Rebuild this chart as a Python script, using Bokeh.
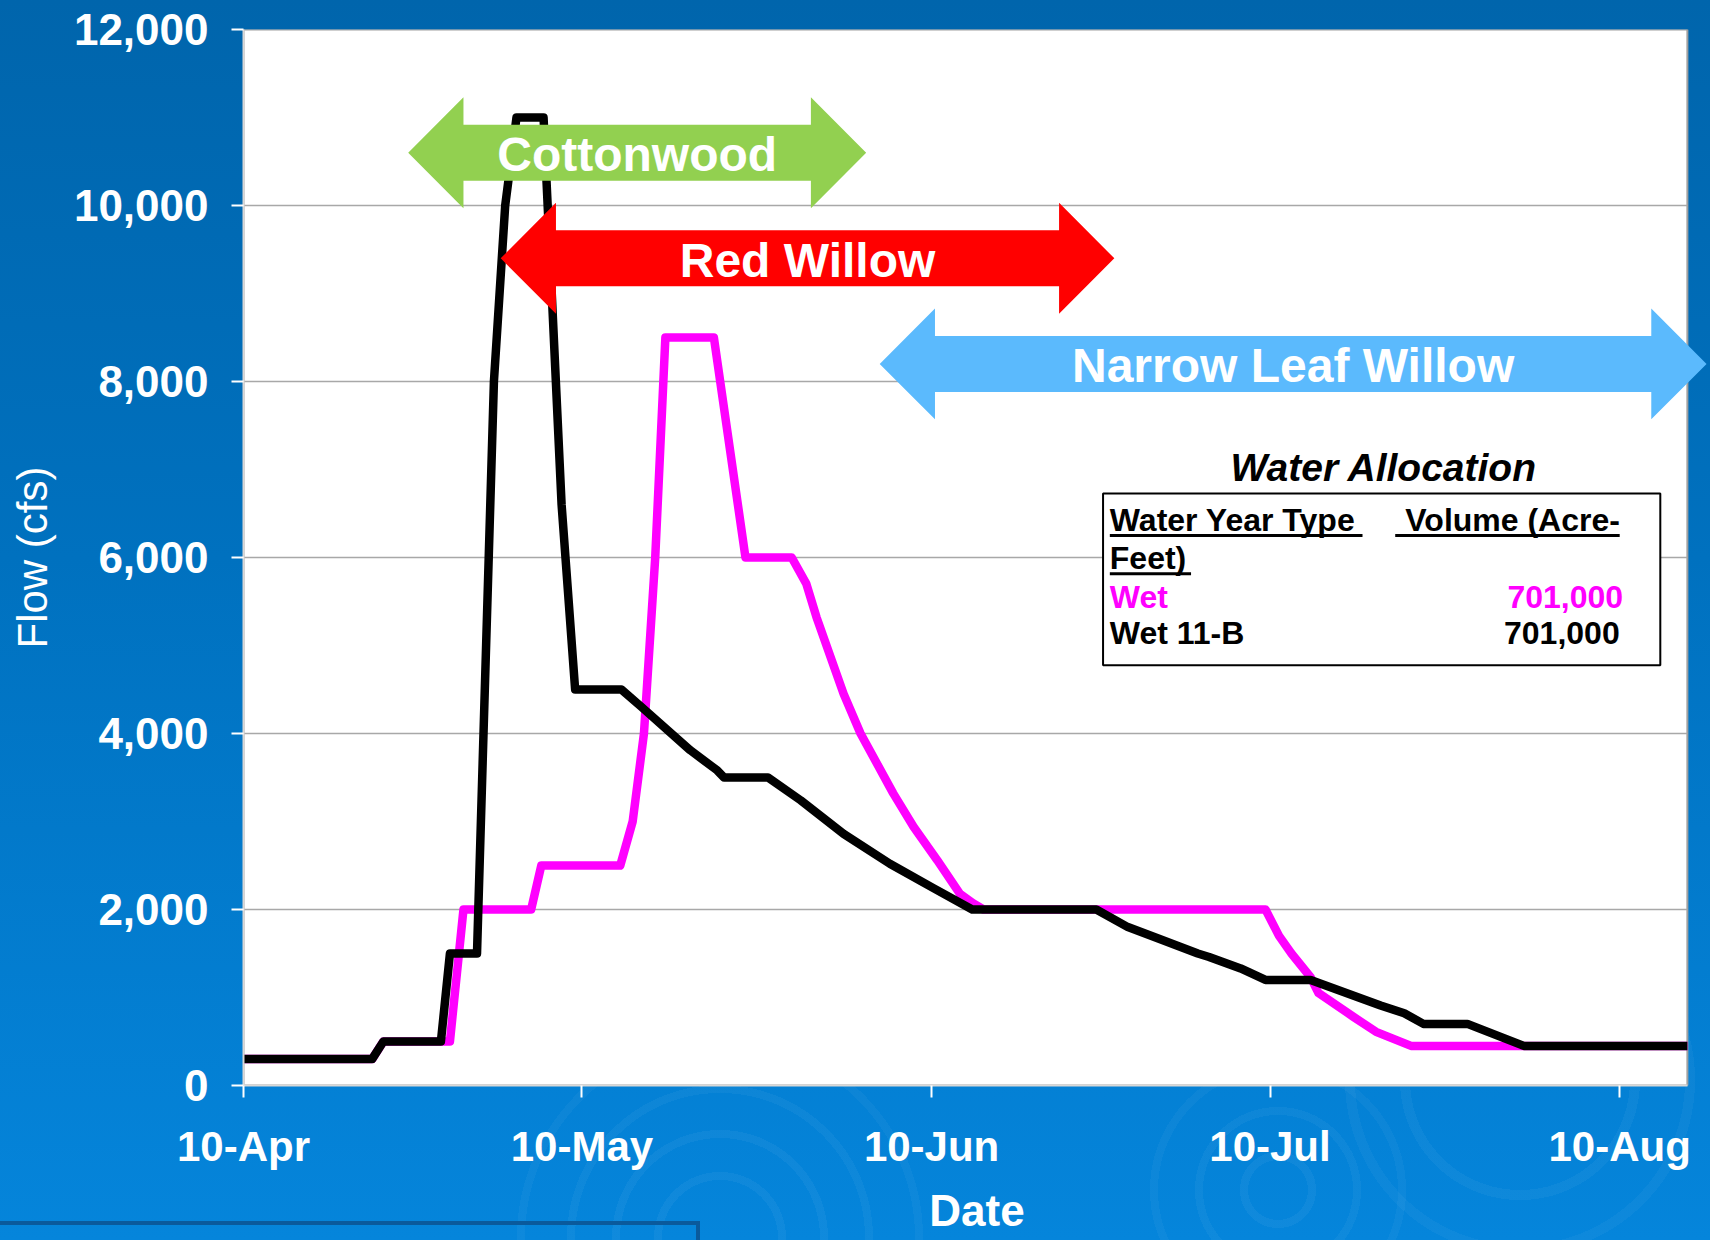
from bokeh.plotting import figure
from bokeh.models import (FixedTicker, Label, Range1d, NumeralTickFormatter,
                          GlobalInlineStyleSheet)
from bokeh.embed import file_html
from bokeh.resources import INLINE

# ---------------- data (x = days after 10-Apr) ----------------
tick_days = [0, 30, 61, 91, 122]
tick_labels = ["10-Apr", "10-May", "10-Jun", "10-Jul", "10-Aug"]
y_ticks = [0, 2000, 4000, 6000, 8000, 10000, 12000]
grid_vals = [2000, 4000, 6000, 8000, 10000]
x_end = 128

wet_days = [0, 11.4, 12.4, 18.3, 19.5, 25.5, 26.4, 33.4, 34.5, 35.5, 36.5, 37.4,
            41.7, 44.5, 48.6, 49.9, 50.8, 53.2, 54.7, 57.6, 59.4, 61.5, 63.5, 64.7,
            65.6, 90.6, 91.8, 92.9, 94.6, 95.3, 98.4, 100.4, 103.5, 128]
wet_flow = [300, 300, 500, 500, 2000, 2000, 2500, 2500, 3000, 4000, 6000, 8500,
            8500, 6000, 6000, 5700, 5320, 4450, 4000, 3320, 2940, 2560, 2180, 2070,
            2000, 2000, 1700, 1500, 1230, 1050, 780, 610, 450, 450]

wet11b_days = [0, 11.4, 12.4, 17.5, 18.3, 20.7, 22.2, 23.2, 24.2, 26.6, 28.2, 29.4,
               33.5, 35.3, 39.6, 42.0, 42.6, 46.5, 49.4, 53.2, 57.3, 61.2, 64.6,
               75.6, 78.4, 81.1, 84.6, 85.6, 88.4, 90.6, 94.6, 100.8, 102.9, 104.6,
               108.5, 113.5, 128]
wet11b_flow = [300, 300, 500, 500, 1500, 1500, 8000, 10000, 11000, 11000, 6600, 4500,
               4500, 4300, 3810, 3580, 3500, 3500, 3240, 2860, 2520, 2240, 2000,
               2000, 1800, 1670, 1500, 1460, 1330, 1200, 1200, 910, 820, 700,
               700, 450, 450]

arrow_labels = ["Cottonwood", "Red Willow", "Narrow Leaf Willow"]
arrow_start = [14.6, 22.8, 56.4]
arrow_end = [55.2, 77.2, 129.7]
arrow_level = [10600, 9400, 8200]
arrow_colors = ["#92D050", "#FF0000", "#5BBAFD"]

table_title = "Water Allocation"
table_head = ["Water Year Type", "Volume (Acre-", "Feet)"]
table_types = ["Wet", "Wet 11-B"]
table_volumes = ["701,000", "701,000"]
table_colors = ["#FF00FF", "#000000"]

# ---------------- styles ----------------
FONT = "Liberation Sans"
head_len = 4.9
head_half = 630
body_half = 318

p = figure(width=1710, height=1240, output_backend="svg", toolbar_location=None,
           x_range=Range1d(0, 130.05), y_range=Range1d(0, 12000),
           min_border_left=243, min_border_right=0, min_border_top=29,
           min_border_bottom=155)
p.background_fill_color = None
p.border_fill_color = None
p.outline_line_color = None
p.xgrid.visible = False
p.ygrid.visible = False

rings_a = ("radial-gradient(circle at 720px 1238px, transparent 0 58px, "
           "rgba(255,255,255,0.045) 58px 66px, transparent 66px 100px, "
           "rgba(255,255,255,0.045) 100px 108px, transparent 108px 145px, "
           "rgba(255,255,255,0.04) 145px 153px, transparent 153px 195px, "
           "rgba(255,255,255,0.035) 195px 203px, transparent 203px)")
rings_b = ("radial-gradient(circle at 1278px 1190px, transparent 0 30px, "
           "rgba(255,255,255,0.045) 30px 38px, transparent 38px 75px, "
           "rgba(255,255,255,0.04) 75px 83px, transparent 83px 120px, "
           "rgba(255,255,255,0.035) 120px 128px, transparent 128px)")
rings_c = ("radial-gradient(circle at 1520px 1080px, transparent 0 110px, "
           "rgba(255,255,255,0.04) 110px 120px, transparent 120px 165px, "
           "rgba(255,255,255,0.035) 165px 175px, transparent 175px)")
p.stylesheets = [GlobalInlineStyleSheet(css="""
html {
  min-height: 100%;
  background:
    linear-gradient(#0A5A9C, #0A5A9C) 0px 1221px / 700px 4px no-repeat,
    linear-gradient(#0A5A9C, #0A5A9C) 696px 1221px / 4px 20px no-repeat,
    """ + rings_a + """,
    """ + rings_b + """,
    """ + rings_c + """,
    linear-gradient(180deg, #0065AC 0%, #0071BF 45%, #0585DB 100%);
}
body { background: transparent; }
""")]

# plot area
p.quad(left=0, right=x_end, bottom=0, top=12000, fill_color="white",
       line_color="#A0A0A0", line_width=2, level="image")
p.segment(x0=[0] * len(grid_vals), x1=[x_end] * len(grid_vals), y0=grid_vals,
          y1=grid_vals, line_color="#A8A8A8", line_width=1.3, level="underlay")

# series
p.line(wet_days, wet_flow, line_color="#FF00FF", line_width=8.5, line_join="round")
p.line(wet11b_days, wet11b_flow, line_color="#000000", line_width=8.5, line_join="round")

# double-headed arrows
xs, ys = [], []
for s, e, c in zip(arrow_start, arrow_end, arrow_level):
    xs.append([s, s + head_len, s + head_len, e - head_len, e - head_len, e,
               e - head_len, e - head_len, s + head_len, s + head_len])
    ys.append([c, c + head_half, c + body_half, c + body_half, c + head_half, c,
               c - head_half, c - body_half, c - body_half, c - head_half])
p.patches(xs, ys, fill_color=arrow_colors, line_color=None)
for lab, s, e, c in zip(arrow_labels, arrow_start, arrow_end, arrow_level):
    p.add_layout(Label(x=(s + e) / 2, y=c, y_offset=-2, text=lab, text_align="center",
                       text_baseline="alphabetic", text_color="white",
                       text_font=FONT, text_font_style="bold", text_font_size="48px"))

# allocation table
p.quad(left=76.2, right=125.6, bottom=4776, top=6727, fill_color="white",
       line_color="black", line_width=2)
p.add_layout(Label(x=101.1, y=6878, y_offset=13, text=table_title, text_align="center",
                   text_baseline="alphabetic", text_color="black", text_font=FONT,
                   text_font_style="bold italic", text_font_size="39px"))
hdr_x = [76.8, 103.0, 76.8]
hdr_y = [6291, 6291, 5855]
for t, x, y in zip(table_head, hdr_x, hdr_y):
    p.add_layout(Label(x=x, y=y, y_offset=12, text=t, text_align="left",
                       text_baseline="alphabetic", text_color="black", text_font=FONT,
                       text_font_style="bold", text_font_size="32px"))
p.segment(x0=[76.8, 102.1, 76.8], x1=[99.2, 122.0, 84.0], y0=[6250, 6250, 5815],
          y1=[6250, 6250, 5815], line_color="black", line_width=3)
row_y = [5420, 5003]
vol_x = [122.3, 122.0]
for t, v, c, y, vx in zip(table_types, table_volumes, table_colors, row_y, vol_x):
    p.add_layout(Label(x=76.8, y=y, y_offset=12, text=t, text_align="left",
                       text_baseline="alphabetic", text_color=c, text_font=FONT,
                       text_font_style="bold", text_font_size="32px"))
    p.add_layout(Label(x=vx, y=y, y_offset=12, text=v, text_align="right",
                       text_baseline="alphabetic", text_color=c, text_font=FONT,
                       text_font_style="bold", text_font_size="32px"))

# axes
p.xaxis.ticker = FixedTicker(ticks=tick_days)
p.xaxis.major_label_overrides = {d: l for d, l in zip(tick_days, tick_labels)}
p.xaxis.bounds = (0, x_end)
p.yaxis.ticker = FixedTicker(ticks=y_ticks)
p.yaxis.formatter = NumeralTickFormatter(format="0,0")
for ax in (p.xaxis[0], p.yaxis[0]):
    ax.major_label_text_color = "white"
    ax.major_label_text_font = FONT
    ax.major_label_text_font_style = "bold"
    ax.axis_line_color = "#D8D8D8"
    ax.axis_line_width = 2
    ax.major_tick_line_color = "white"
    ax.major_tick_line_width = 2
    ax.major_tick_out = 12
    ax.major_tick_in = 0
    ax.minor_tick_line_color = None
    ax.axis_label_text_color = "white"
    ax.axis_label_text_font = FONT
p.xaxis.major_label_text_font_size = "42px"
p.yaxis.major_label_text_font_size = "44px"
p.yaxis.major_label_standoff = 23
p.xaxis.major_label_standoff = 25
p.yaxis.axis_label = "Flow (cfs)"
p.yaxis.axis_label_text_font_style = "normal"
p.yaxis.axis_label_text_font_size = "42px"
p.yaxis.axis_label_standoff = 15
p.xaxis.axis_label = "Date"
p.xaxis.axis_label_text_font_style = "bold"
p.xaxis.axis_label_text_font_size = "44px"
p.xaxis.axis_label_standoff = 13

open("out.html", "w").write(file_html(p, INLINE))
